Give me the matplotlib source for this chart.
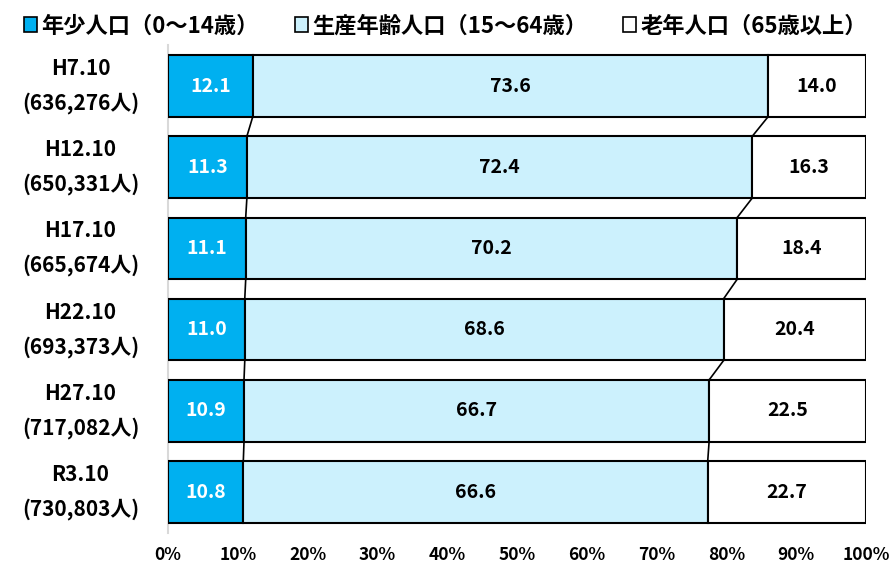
import matplotlib
matplotlib.use("Agg")
import matplotlib.pyplot as plt
import numpy as np
from matplotlib.patches import Rectangle

plt.rcParams['font.family'] = ['Noto Sans CJK JP', 'DejaVu Sans']

categories = ["H7.10\n(636,276人)", "H12.10\n(650,331人)", "H17.10\n(665,674人)",
              "H22.10\n(693,373人)", "H27.10\n(717,082人)", "R3.10\n(730,803人)"]
young = [12.1, 11.3, 11.1, 11.0, 10.9, 10.8]
working = [73.6, 72.4, 70.2, 68.6, 66.7, 66.6]
old = [14.0, 16.3, 18.4, 20.4, 22.5, 22.7]
series_names = ["年少人口（0～14歳）", "生産年齢人口（15～64歳）", "老年人口（65歳以上）"]
colors = ["#00B0F0", "#CCF1FD", "#FFFFFF"]
xticks = [0, 10, 20, 30, 40, 50, 60, 70, 80, 90, 100]

data = np.array([young, working, old], dtype=float)
totals = data.sum(axis=0)
pct = data / totals * 100

fig = plt.figure(figsize=(8.91, 5.65), dpi=100)
ax = fig.add_axes([168/891, 1-532.6/565, (866-168)/891, (532.6-45.4)/565])

n = len(categories)
y = np.arange(n)
h = 0.76
left = np.zeros(n)
for i in range(3):
    ax.barh(y, pct[i], left=left, height=h, color=colors[i], edgecolor="black",
            linewidth=1.5, zorder=3)
    for j in range(n):
        ax.text(left[j] + pct[i][j]/2, y[j], f"{data[i][j]:.1f}",
                ha="center", va="center", fontsize=14, fontweight="bold",
                color="white" if i == 0 else "black", zorder=4)
    left = left + pct[i]

# series lines
cum = np.cumsum(pct, axis=0)
for k in range(2):
    for j in range(n-1):
        ax.plot([cum[k][j], cum[k][j+1]], [y[j]+h/2, y[j+1]-h/2],
                color="black", linewidth=1.2, zorder=2)

ax.set_xlim(0, 100)
ax.set_ylim(n-0.5, -0.5)
ax.set_xticks(xticks)
ax.set_xticklabels([f"{t}%" for t in xticks], fontsize=12.5, fontweight="bold")
ax.set_yticks(y)
ax.set_yticklabels(categories, fontsize=15, fontweight="bold", ha="center",
                   va="center", linespacing=1.75)
ax.tick_params(axis="y", length=0, pad=63)
ax.tick_params(axis="x", length=0, pad=10)
for s in ["top", "right", "bottom"]:
    ax.spines[s].set_visible(False)
ax.spines["left"].set_color("#D9D9D9")
ax.spines["left"].set_linewidth(1.5)

# legend
handles = [Rectangle((0, 0), 1, 1, facecolor=c, edgecolor="black", linewidth=1.2) for c in colors]
fig.legend(handles, series_names, loc="upper center", bbox_to_anchor=(0.5, 1.01),
           ncol=3, frameon=False, prop={'size': 16, 'weight': 'bold'},
           handlelength=0.6, handleheight=0.6, handletextpad=0.2, columnspacing=1.6)

fig.savefig("out.png", dpi=100)
